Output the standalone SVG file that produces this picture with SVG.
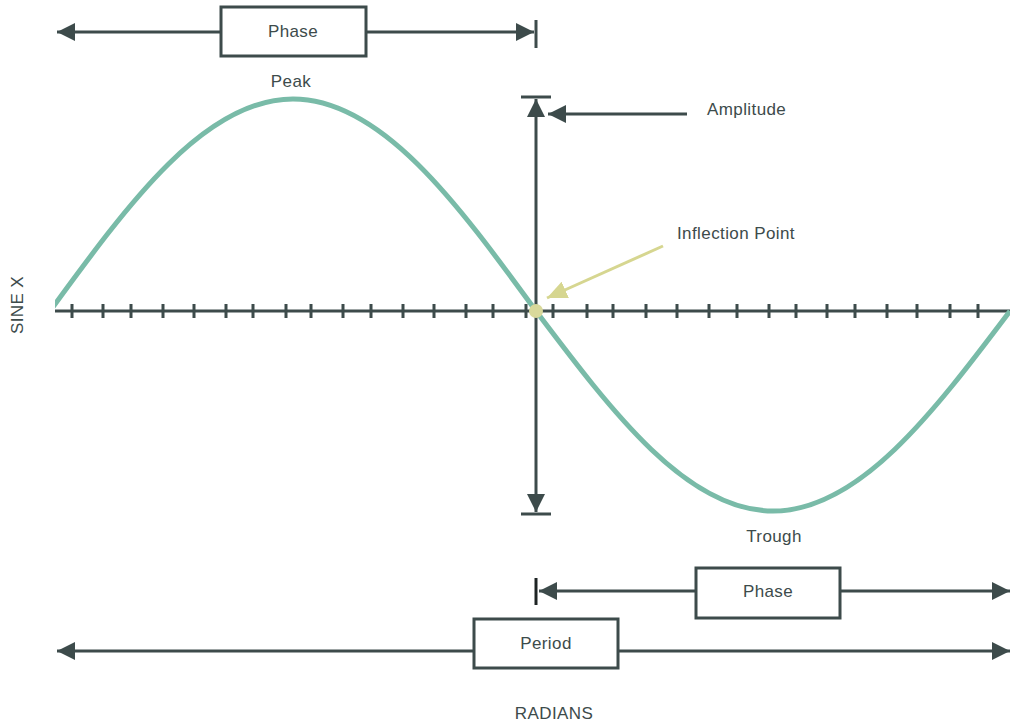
<svg xmlns="http://www.w3.org/2000/svg" width="1010" height="723" viewBox="0 0 1010 723">
<style>
.ln{stroke:#3d4b4b;stroke-width:3;fill:none}
.bx{stroke:#3d4b4b;stroke-width:3;fill:#fff}
.t{font-family:"Liberation Sans",Arial,sans-serif;font-size:17px;fill:#3d4b4b;letter-spacing:0.4px}
.tc{text-anchor:middle}
.wave{stroke:#79bba8;stroke-width:5;fill:none}
</style>
<defs>
<marker id="ah" markerUnits="userSpaceOnUse" markerWidth="18" markerHeight="18" refX="16" refY="8" orient="auto-start-reverse" viewBox="0 0 16 16">
<path d="M0,0 L16,8 L0,16 z" fill="#3d4b4b"/>
</marker>
<marker id="ahy" markerUnits="userSpaceOnUse" markerWidth="20" markerHeight="18" refX="18" refY="8" orient="auto" viewBox="0 0 18 16">
<path d="M0,0 L18,8 L0,16 z" fill="#d6d690"/>
</marker>
<clipPath id="clip"><rect x="55" y="0" width="955" height="723"/></clipPath>
</defs>
<rect width="1010" height="723" fill="#fff"/>

<g id="axis">
<line class="ln" x1="55" y1="311" x2="1010" y2="311"/>
<path class="ln" d="M72,304V318M103,304V318M131,304V318M163,304V318M194,304V318M226,304V318M253,304V318M286,304V318M311,304V318M343,304V318M371,304V318M403,304V318M434,304V318M466,304V318M493,304V318M526,304V318M553,304V318M587,304V318M613,304V318M646,304V318M677,304V318M709,304V318M737,304V318M769,304V318M796,304V318M827,304V318M855,304V318M887,304V318M917,304V318M950,304V318M978,304V318"/>
</g>

<g id="sine-wave">
<path class="wave" clip-path="url(#clip)" d="M50,311 C129.3,202.4 205.1,99 293,99 C380.9,99 456.7,202.4 536,311 C613.3,413.5 687.2,511 773,511 C858.8,511 932.7,413.5 1010,311"/>
</g>

<g id="connectors">
<line class="ln" x1="221" y1="32" x2="57" y2="32" marker-end="url(#ah)"/>
<line class="ln" x1="366" y1="32" x2="534" y2="32" marker-end="url(#ah)"/>
<line class="ln" x1="536" y1="20" x2="536" y2="48"/>
<line class="ln" x1="536" y1="305" x2="536" y2="99" marker-end="url(#ah)"/>
<line class="ln" x1="536" y1="305" x2="536" y2="512" marker-end="url(#ah)"/>
<line class="ln" x1="521" y1="97" x2="551" y2="97"/>
<line class="ln" x1="521" y1="514" x2="551" y2="514"/>
<line class="ln" x1="687" y1="114" x2="548" y2="114" marker-end="url(#ah)"/>
<line x1="663" y1="246" x2="547" y2="298" stroke="#d6d690" stroke-width="3" marker-end="url(#ahy)"/>
<line class="ln" x1="696" y1="591" x2="539" y2="591" marker-end="url(#ah)"/>
<line x1="536" y1="578" x2="536" y2="605" stroke="#1e2424" stroke-width="3"/>
<line class="ln" x1="840" y1="591" x2="1010" y2="591" marker-end="url(#ah)"/>
<line class="ln" x1="474" y1="651" x2="57" y2="651" marker-end="url(#ah)"/>
<line class="ln" x1="618" y1="651" x2="1010" y2="651" marker-end="url(#ah)"/>
</g>

<g id="inflection-point">
<circle cx="536" cy="311" r="7" fill="#d9d99b"/>
<text class="t" x="677" y="239">Inflection Point</text>
</g>

<g id="phase-top">
<rect class="bx" x="221" y="7" width="145" height="49"/>
<text class="t tc" x="293" y="37">Phase</text>
</g>

<g id="peak"><text class="t tc" x="291" y="87">Peak</text></g>
<g id="amplitude"><text class="t" x="707" y="115">Amplitude</text></g>
<g id="trough"><text class="t tc" x="774" y="542">Trough</text></g>

<g id="phase-bottom">
<rect class="bx" x="696" y="568" width="144" height="50"/>
<text class="t tc" x="768" y="597">Phase</text>
</g>

<g id="period">
<rect class="bx" x="474" y="619" width="144" height="49"/>
<text class="t tc" x="546" y="649">Period</text>
</g>

<g id="radians"><text class="t tc" x="554" y="719">RADIANS</text></g>
<g id="sine-x"><text class="t tc" transform="translate(23,305) rotate(-90)" x="0" y="0">SINE X</text></g>
</svg>
